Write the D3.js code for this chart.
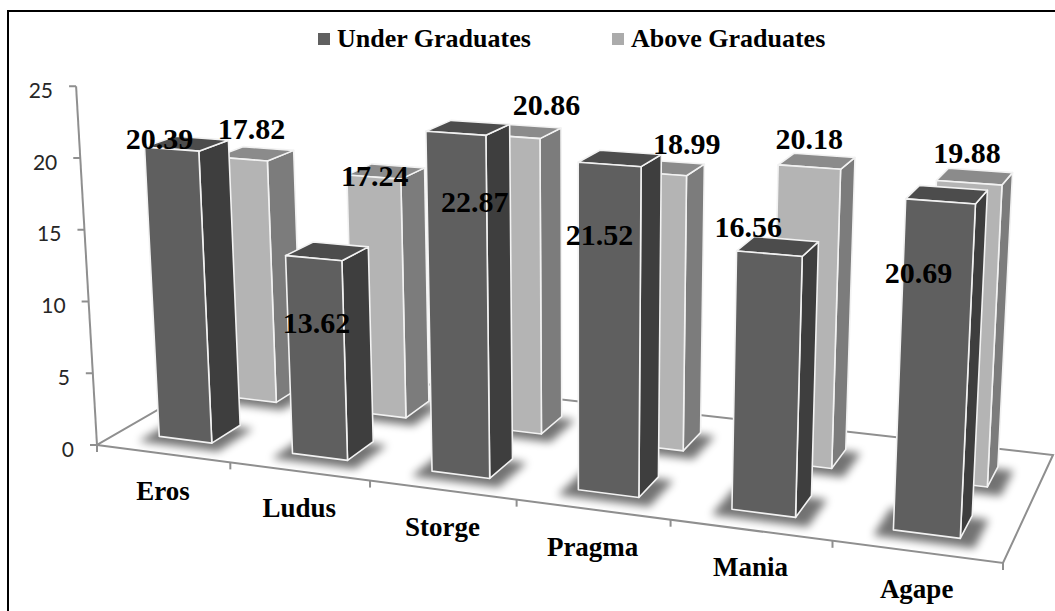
<!DOCTYPE html>
<html lang="en">
<head>
    <meta charset="UTF-8"/>
    <title>Love Styles - 3D Column Chart</title>
    <script src="https://d3js.org/d3.v7.min.js"></script>
    <style>
        body { margin: 0; background: #fff; }
        .value-label { font-family: "Liberation Serif", "Times New Roman", serif; font-weight: bold; font-size: 30px; fill: #000; }
        .cat-label { font-family: "Liberation Serif", "Times New Roman", serif; font-weight: bold; font-size: 27px; fill: #000; }
        .legend text { font-family: "Liberation Serif", "Times New Roman", serif; font-weight: bold; font-size: 26px; fill: #000; }
        .tick-label { font-family: Lato, "Open Sans", sans-serif; font-size: 21px; fill: #262626; }
        .floor, .axis-line { fill: none; stroke: #8f8f8f; stroke-width: 2px; }
        .face { stroke: #f2f2f2; stroke-width: 1.6px; stroke-linejoin: round; }
    </style>
</head>
<body>
<script>
    // data
    var categories = ["Eros", "Ludus", "Storge", "Pragma", "Mania", "Agape"];
    var series = ["Under Graduates", "Above Graduates"];
    var underGrad = [20.39, 13.62, 22.87, 21.52, 16.56, 20.69];
    var aboveGrad = [17.82, 17.24, 20.86, 18.99, 20.18, 19.88];
    var yTicks = [0, 5, 10, 15, 20, 25];

    var w = 1055;
    var h = 611;

    // floor corners on screen: front-left, front-right, back-right, back-left
    var floorQuad = [[97, 445], [1003, 563], [1053, 455], [239, 363]];
    var pxPerUnit = 14.35;      // vertical pixels per value unit at front-left corner
    var vpX = 583, vpDist = 8333; // vertical lines converge below

    // face colours per series: front, side, top
    var colors = {
        "Under Graduates": { front: "#5f5f5f", side: "#3e3e3e", top: "#4c4c4c", legend: "#606060" },
        "Above Graduates": { front: "#b4b4b4", side: "#7c7c7c", top: "#8b8b8b", legend: "#ababab" }
    };

    // Excel data-label nudges, from the top-front edge centre of each bar
    var labelNudge = {
        "Under Graduates": [[-12, -11], [3, 64], [19, 68], [-10, 70], [-21, -27], [-22, 71]],
        "Above Graduates": [[10, -31], [1, -2], [35, -32], [30, -30], [0, -29], [-2, -30]]
    };

    // square -> quad homography (Heckbert)
    var q = floorQuad;
    var dx1 = q[1][0] - q[2][0], dx2 = q[3][0] - q[2][0], dx3 = q[0][0] - q[1][0] + q[2][0] - q[3][0];
    var dy1 = q[1][1] - q[2][1], dy2 = q[3][1] - q[2][1], dy3 = q[0][1] - q[1][1] + q[2][1] - q[3][1];
    var den = dx1 * dy2 - dx2 * dy1;
    var hg = (dx3 * dy2 - dx2 * dy3) / den;
    var hh = (dx1 * dy3 - dx3 * dy1) / den;
    var ha = q[1][0] - q[0][0] + hg * q[1][0];
    var hb = q[3][0] - q[0][0] + hh * q[3][0];
    var hd = q[1][1] - q[0][1] + hg * q[1][1];
    var he = q[3][1] - q[0][1] + hh * q[3][1];

    // scales in world units
    var xScale = d3.scaleBand().domain(categories).range([0, 6]).paddingInner(0.6).paddingOuter(0.3);
    var sScale = d3.scaleLinear().domain([0, 6]).range([0, 1]);
    var zScale = d3.scaleBand().domain(series).range([0.15, 0.82]).paddingInner(0.574);
    var yScale = d3.scaleLinear().domain([0, 25]).range([0, 25 * pxPerUnit]);

    // world (X along categories, Z depth 0..1, value v) -> screen
    function project(X, Z, v) {
        var s = sScale(X), t = Z;
        var wq = hg * s + hh * t + 1;
        var u0 = (ha * s + hb * t + q[0][0]) / wq;
        var v0 = (hd * s + he * t + q[0][1]) / wq;
        var lift = yScale(v) / wq;
        return [u0 + (u0 - vpX) * lift / vpDist, v0 - lift];
    }

    var svg = d3.select("body").append("svg")
        .attr("width", w)
        .attr("height", h);

    var defs = svg.append("defs");
    defs.append("filter").attr("id", "shadow")
        .attr("x", "-50%").attr("y", "-50%").attr("width", "200%").attr("height", "200%")
        .append("feGaussianBlur").attr("stdDeviation", 4.5);

    // frame
    svg.append("rect")
        .attr("x", 8).attr("y", 11)
        .attr("width", w + 20).attr("height", h + 20)
        .attr("fill", "none").attr("stroke", "#000").attr("stroke-width", 2);

    // floor
    var floorPts = [[0, 0], [6, 0], [6, 1], [0, 1]].map(function(p) { return project(p[0], p[1], 0); });
    svg.append("path")
        .attr("class", "floor")
        .attr("d", "M" + floorPts.join("L") + "Z");

    // category ticks on the front edge
    d3.range(0, 7).forEach(function(i) {
        var p = project(i, 0, 0);
        svg.append("line").attr("class", "axis-line")
            .attr("x1", p[0]).attr("y1", p[1]).attr("x2", p[0]).attr("y2", p[1] + 7);
    });

    // value axis at front-left corner
    var a0 = project(0, 0, 0), a1 = project(0, 0, 25);
    svg.append("line").attr("class", "axis-line")
        .attr("x1", a0[0]).attr("y1", a0[1]).attr("x2", a1[0]).attr("y2", a1[1]);
    yTicks.forEach(function(t) {
        var p = project(0, 0, t);
        svg.append("line").attr("class", "axis-line")
            .attr("x1", p[0] - 7).attr("y1", p[1]).attr("x2", p[0]).attr("y2", p[1]);
        svg.append("text").attr("class", "tick-label")
            .attr("x", p[0] - 23).attr("y", p[1] + 3)
            .attr("text-anchor", "end")
            .attr("dominant-baseline", "central")
            .text(t);
    });

    function poly(pts) { return "M" + pts.join("L") + "Z"; }

    function drawBar(g, cat, ser, value) {
        var x0 = xScale(cat), x1 = x0 + xScale.bandwidth();
        var z0 = zScale(ser), z1 = z0 + zScale.bandwidth();
        var c = colors[ser];

        // soft shadow round the base
        var gx = 0.1, gz = 0.05;
        g.append("path")
            .attr("d", poly([project(x0 - gx, z0 - gz, 0), project(x1 + gx, z0 - gz, 0),
                             project(x1 + gx, z1, 0), project(x0 - gx, z1, 0)]))
            .attr("transform", "translate(0,2)")
            .attr("fill", "#000").attr("opacity", 0.55)
            .attr("filter", "url(#shadow)");

        g.append("path").attr("class", "face")
            .attr("d", poly([project(x1, z0, 0), project(x1, z1, 0), project(x1, z1, value), project(x1, z0, value)]))
            .attr("fill", c.side);
        g.append("path").attr("class", "face")
            .attr("d", poly([project(x0, z0, value), project(x1, z0, value), project(x1, z1, value), project(x0, z1, value)]))
            .attr("fill", c.top);
        g.append("path").attr("class", "face")
            .attr("d", poly([project(x0, z0, 0), project(x1, z0, 0), project(x1, z0, value), project(x0, z0, value)]))
            .attr("fill", c.front);
    }

    var valuesBySeries = { "Under Graduates": underGrad, "Above Graduates": aboveGrad };

    // back row first, then front row
    ["Above Graduates", "Under Graduates"].forEach(function(ser) {
        var g = svg.append("g").attr("class", "row");
        categories.forEach(function(cat, i) {
            drawBar(g, cat, ser, valuesBySeries[ser][i]);
        });
    });

    // data labels
    series.forEach(function(ser) {
        categories.forEach(function(cat, i) {
            var v = valuesBySeries[ser][i];
            var p = project(xScale(cat) + xScale.bandwidth() / 2, zScale(ser), v);
            var n = labelNudge[ser][i];
            svg.append("text").attr("class", "value-label")
                .attr("x", p[0] + n[0]).attr("y", p[1] + n[1])
                .attr("text-anchor", "middle")
                .attr("dominant-baseline", "central")
                .text(v.toFixed(2));
        });
    });

    // category labels
    categories.forEach(function(cat) {
        var p = project(xScale(cat) + xScale.bandwidth() / 2, 0, 0);
        svg.append("text").attr("class", "cat-label")
            .attr("x", p[0]).attr("y", p[1] + 46)
            .attr("text-anchor", "middle")
            .text(cat);
    });

    // legend
    var legendX = [318, 612];
    var legend = svg.selectAll(".legend")
        .data(series)
        .enter().append("g")
        .attr("class", "legend")
        .attr("transform", function(d, i) { return "translate(" + legendX[i] + ",0)"; });

    legend.append("rect")
        .attr("x", 0).attr("y", 33)
        .attr("width", 12).attr("height", 12)
        .style("fill", function(d) { return colors[d].legend; });

    legend.append("text")
        .attr("x", 19).attr("y", 47)
        .text(function(d) { return d; });
</script>
</body>
</html>
